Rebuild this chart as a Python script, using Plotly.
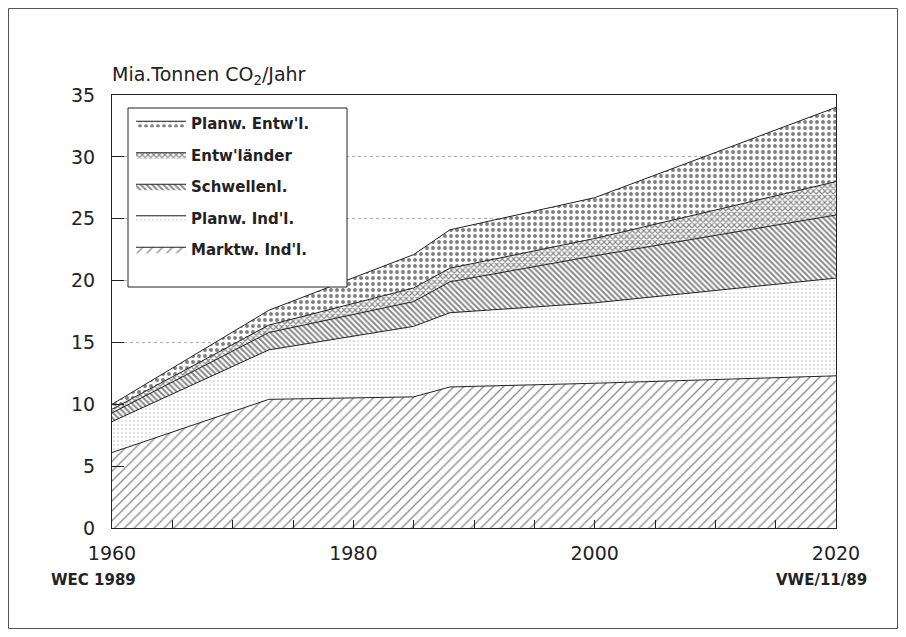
import plotly.graph_objects as go

years = [1960, 1973, 1985, 1988, 2000, 2020]
marktw_ind = [6.1, 10.4, 10.6, 11.4, 11.7, 12.3]
planw_ind = [2.5, 4.0, 5.7, 6.0, 6.5, 7.9]
schwellenl = [0.7, 1.4, 2.0, 2.5, 3.8, 5.1]
entwlaender = [0.3, 0.6, 1.1, 1.1, 1.4, 2.7]
planw_entw = [0.4, 1.2, 2.7, 3.1, 3.3, 6.0]

x_ticks = [1960, 1980, 2000, 2020]
y_ticks = [0, 5, 10, 15, 20, 25, 30, 35]

FONT = "DejaVu Sans, Verdana, sans-serif"
INK = "#222222"

W, H = 890, 621
L, R, T, B = 104, 62, 87, 101
PW, PH = W - L - R, H - T - B


def px_x(p):
    return (p - L) / PW


def px_y(p):
    return (T + PH - p) / PH


series = [
    ("Marktw. Ind'l.", marktw_ind, dict(shape="/", size=7, solidity=0.18, fgcolor="#111")),
    ("Planw. Ind'l.", planw_ind, dict(shape=".", size=4, solidity=0.12, fgcolor="#777")),
    ("Schwellenl.", schwellenl, dict(shape="\\", size=4, solidity=0.5, fgcolor="#111")),
    ("Entw'länder", entwlaender, dict(shape="x", size=4, solidity=0.5, fgcolor="#111")),
    ("Planw. Entw'l.", planw_entw, dict(shape=".", size=6, solidity=0.34, fgcolor="#000")),
]

fig = go.Figure()
for i, (name, vals, pat) in enumerate(series):
    pat = dict(pat)
    pat["bgcolor"] = "white"
    fig.add_trace(go.Scatter(
        x=years, y=vals, name=name, mode="lines",
        stackgroup="one", legendgroup=f"g{i}", legendrank=len(series) - i,
        line=dict(color=INK, width=1),
        fillcolor="white", fillpattern=pat,
        hoverinfo="skip",
    ))

fig.update_layout(
    width=W, height=H,
    margin=dict(l=L, r=R, t=T, b=B),
    paper_bgcolor="white", plot_bgcolor="white",
    font=dict(family=FONT, color=INK),
    showlegend=True,
    legend=dict(
        x=px_x(123), y=px_y(99), xanchor="left", yanchor="top",
        bgcolor="rgba(0,0,0,0)", borderwidth=0,
        traceorder="grouped", tracegroupgap=9,
        font=dict(family=FONT, size=15, color=INK, weight="bold"),
        itemwidth=50,
    ),
    xaxis=dict(
        range=[1960, 2020], tickvals=x_ticks, ticktext=[str(v) for v in x_ticks],
        ticks="inside", ticklen=8, tickcolor=INK,
        minor=dict(dtick=5, tick0=1960, ticks="inside", ticklen=8, tickcolor=INK),
        showline=True, linecolor=INK, linewidth=1, mirror=True,
        showgrid=False, zeroline=False, ticklabelstandoff=8,
        tickfont=dict(family=FONT, size=19, color=INK),
    ),
    yaxis=dict(
        range=[0, 35], tickvals=y_ticks,
        ticks="inside", ticklen=12, tickcolor=INK,
        showline=True, linecolor=INK, linewidth=1, mirror=True,
        showgrid=True, gridcolor="#aaa", griddash="dot", gridwidth=1,
        zeroline=False, ticklabelstandoff=12,
        tickfont=dict(family=FONT, size=19, color=INK),
    ),
    annotations=[
        dict(text="Mia.Tonnen CO<sub>2</sub>/Jahr", xref="paper", yref="paper",
             x=0, y=1, xanchor="left", yanchor="bottom", yshift=5, xshift=-2, showarrow=False,
             font=dict(family=FONT, size=19, color=INK)),
        dict(text="WEC 1989", xref="paper", yref="paper",
             x=0, y=0, xanchor="right", yanchor="top", xshift=26, yshift=-41, showarrow=False,
             font=dict(family=FONT, size=15, color=INK, weight="bold")),
        dict(text="VWE/11/89", xref="paper", yref="paper",
             x=1, y=0, xanchor="right", yanchor="top", xshift=33, yshift=-41, showarrow=False,
             font=dict(family=FONT, size=15, color=INK, weight="bold")),
    ],
    shapes=[
        dict(type="rect", xref="paper", yref="paper",
             x0=px_x(0.5), x1=px_x(W - 0.5),
             y0=px_y(H - 0.5), y1=px_y(0.5),
             line=dict(color="#555", width=1), fillcolor="rgba(0,0,0,0)", layer="below"),
        dict(type="rect", xref="paper", yref="paper",
             x0=px_x(120), x1=px_x(339),
             y0=px_y(279), y1=px_y(100),
             line=dict(color=INK, width=1), fillcolor="white", layer="above"),
    ],
)

fig.write_html("out.html")
